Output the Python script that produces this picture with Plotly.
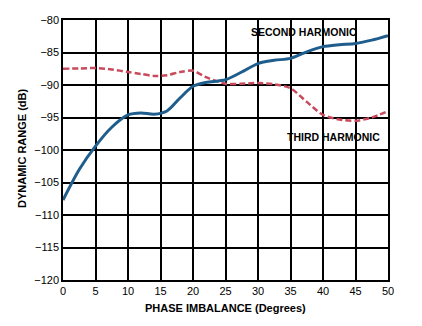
import plotly.graph_objects as go

phase_deg = [0, 2.5, 5, 7.5, 10, 12, 14, 16, 18, 20, 22, 25, 27.5, 30, 32.5, 35, 37.5, 40, 42.5, 45, 47.5, 50]
second_harmonic_db = [-107.7, -103.0, -99.4, -96.5, -94.6, -94.3, -94.5, -94.0, -92.0, -90.2, -89.6, -89.2, -88.0, -86.7, -86.2, -85.9, -84.9, -84.1, -83.8, -83.6, -83.1, -82.4]
third_harmonic_db = [-87.5, -87.45, -87.4, -87.6, -88.0, -88.3, -88.6, -88.5, -88.0, -87.8, -88.8, -89.8, -89.8, -89.7, -89.9, -90.5, -92.6, -94.6, -95.3, -95.5, -95.0, -94.0]

x_ticks = [0, 5, 10, 15, 20, 25, 30, 35, 40, 45, 50]
y_ticks = [-120, -115, -110, -105, -100, -95, -90, -85, -80]

font_family = "Liberation Sans, Arial, sans-serif"

L, R, T, B, W, H = 63, 34, 20, 46, 422, 326
PW, PH = W - L - R, H - T - B


def px(xp):
    return (xp - L) / PW


def py(yp):
    return (H - B - yp) / PH


fig = go.Figure()
fig.add_trace(go.Scatter(x=phase_deg, y=third_harmonic_db, mode="lines",
                         line=dict(color="#c84a5c", width=2.5, dash="6px,3px", shape="spline", smoothing=0.8),
                         showlegend=False))
fig.add_trace(go.Scatter(x=phase_deg, y=second_harmonic_db, mode="lines",
                         line=dict(color="#1f5d8c", width=3, shape="spline", smoothing=0.8),
                         showlegend=False))

ann_font = dict(size=10.5, family=font_family, color="black")
title_font = dict(size=11, family=font_family, color="black")
common = dict(xref="paper", yref="paper", showarrow=False, xanchor="center", yanchor="middle")
fig.update_layout(
    width=W, height=H,
    margin=dict(l=L, r=R, t=T, b=B),
    paper_bgcolor="white", plot_bgcolor="white",
    font=dict(family=font_family, size=11, color="black"),
    xaxis=dict(range=[0, 50], tickvals=x_ticks, showgrid=True, gridcolor="#000000", gridwidth=1.5,
               showline=True, linecolor="#000000", linewidth=1.5, mirror=True, zeroline=False,
               ticks="", tickfont=dict(size=11, family=font_family)),
    yaxis=dict(range=[-120, -80], tickvals=y_ticks, showgrid=True, gridcolor="#000000", gridwidth=1.5,
               showline=True, linecolor="#000000", linewidth=1.5, mirror=True, zeroline=False,
               ticks="", tickfont=dict(size=11, family=font_family)),
    annotations=[
        dict(text="<b>SECOND HARMONIC</b>", x=px(304), y=py(32), font=ann_font, **common),
        dict(text="<b>THIRD HARMONIC</b>", x=px(333), y=py(137), font=ann_font, **common),
        dict(text="<b>PHASE IMBALANCE (Degrees)</b>", x=px(226), y=py(308), font=title_font, **common),
        dict(text="<b>DYNAMIC RANGE (dB)</b>", x=px(22), y=py(149), textangle=-90, font=title_font, **common),
    ],
)

fig.write_html("out.html")
